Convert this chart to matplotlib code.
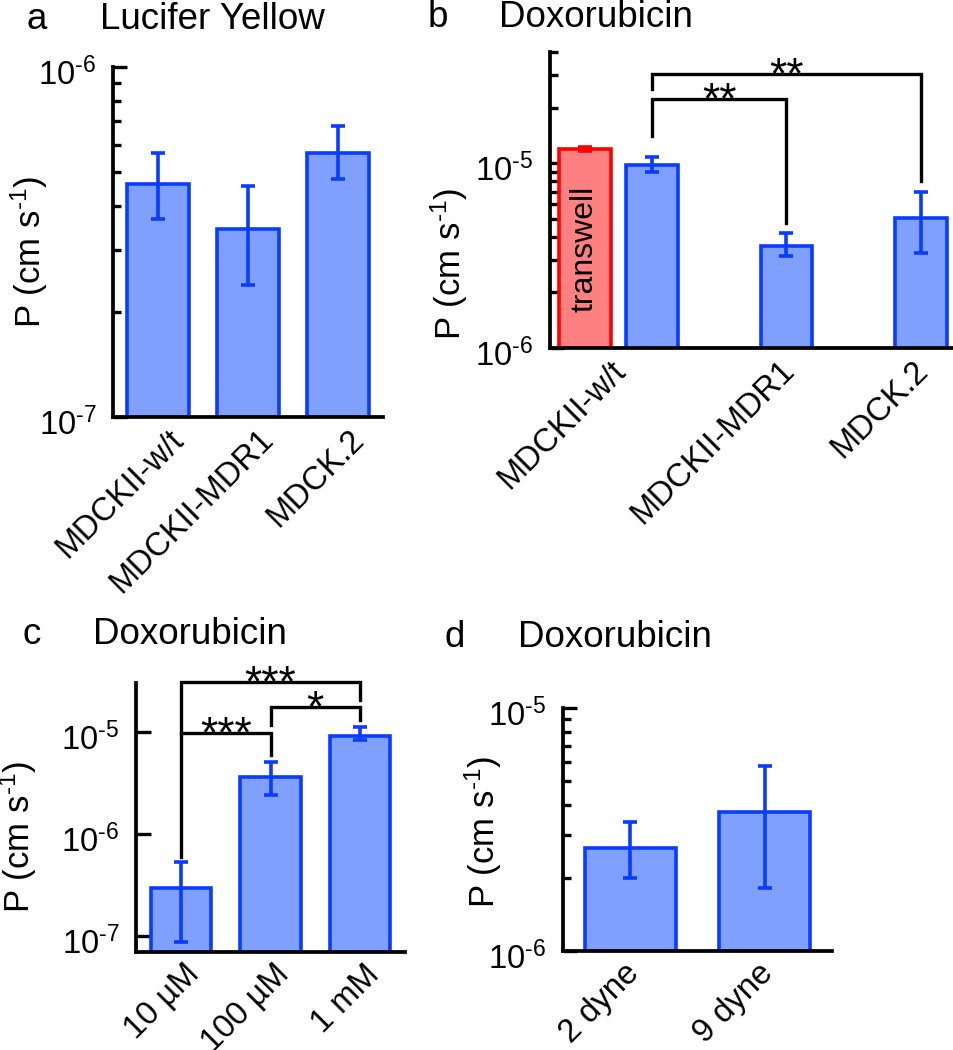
import numpy as np
import matplotlib
matplotlib.use("Agg")
import matplotlib.pyplot as plt
from matplotlib.ticker import LogLocator, FuncFormatter, NullFormatter, NullLocator
from matplotlib.transforms import ScaledTranslation, blended_transform_factory

plt.rcParams['font.family'] = ['Liberation Sans', 'DejaVu Sans']
plt.rcParams['mathtext.fontset'] = 'custom'
plt.rcParams['mathtext.rm'] = 'Liberation Sans'
plt.rcParams['mathtext.it'] = 'Liberation Sans'
plt.rcParams['mathtext.default'] = 'regular'

# ---------------- data ----------------
a_labels = ['MDCKII-w/t', 'MDCKII-MDR1', 'MDCK.2']
a_vals = [4.63e-7, 3.44e-7, 5.69e-7]
a_lo = [3.68e-7, 2.38e-7, 4.79e-7]
a_hi = [5.68e-7, 4.57e-7, 6.78e-7]

b_labels = ['MDCKII-w/t', 'MDCKII-MDR1', 'MDCK.2']
b_vals = [9.75e-6, 3.58e-6, 5.06e-6]
b_lo = [8.95e-6, 3.13e-6, 3.28e-6]
b_hi = [1.08e-5, 4.20e-6, 6.98e-6]
b_transwell_val = [1.19e-5]
b_transwell_lo = [1.16e-5]
b_transwell_hi = [1.23e-5]
b_pairs = [(0, 1), (0, 2)]
b_bracket_y = [(1.40e-5, 2.24e-5, 4.76e-6), (2.53e-5, 3.05e-5, 8.0e-6)]
b_stars = ['**', '**']

c_labels = ['10 µM', '100 µM', '1 mM']
c_vals = [2.95e-7, 3.62e-6, 9.14e-6]
c_lo = [8.7e-8, 2.41e-6, 8.35e-6]
c_hi = [5.3e-7, 5.08e-6, 1.12e-5]
c_pairs = [(0, 1), (1, 2), (0, 2)]
c_bracket_y = [(5.96e-7, 9.8e-6, 5.95e-6), (1.17e-5, 1.76e-5, 1.31e-5), (9.8e-6, 3.09e-5, 2.06e-5)]
c_stars = ['***', '*', '***']

d_labels = ['2 dyne', '9 dyne']
d_vals = [2.65e-6, 3.73e-6]
d_lo = [2.0e-6, 1.82e-6]
d_hi = [3.4e-6, 5.77e-6]

# ---------------- style ----------------
FACE = '#80A0FF'
EDGE = '#0A3CFF'
RFACE = '#FF8080'
REDGE = '#FF0000'
LW = 2.6
W, H = 954, 1050
HY = '\u2010'  # short hyphen used as minus sign in exponents

fig = plt.figure(figsize=(W / 100, H / 100), dpi=100)


def add_axes(l, r, t, b):
    return fig.add_axes([l / W, 1 - b / H, (r - l) / W, (b - t) / H])


def fmt(v, p):
    e = int(round(np.log10(v)))
    return r'$10^{%s%d}$' % (HY, abs(e))


def style(ax, ylim, minor=True):
    ax.set_yscale('log')
    ax.set_ylim(*ylim)
    for s in ['top', 'right']:
        ax.spines[s].set_visible(False)
    for s in ['left', 'bottom']:
        ax.spines[s].set_linewidth(2.7)
        ax.spines[s].set_capstyle('projecting')
    ax.yaxis.set_major_locator(LogLocator(base=10, numticks=10))
    ax.yaxis.set_major_formatter(FuncFormatter(fmt))
    if minor:
        ax.yaxis.set_minor_locator(LogLocator(base=10, subs=np.arange(2, 10), numticks=20))
    else:
        ax.yaxis.set_minor_locator(NullLocator())
    ax.yaxis.set_minor_formatter(NullFormatter())
    ax.tick_params(axis='y', which='major', direction='in', length=10, width=2.4,
                   labelsize=23.5, pad=12)
    ax.tick_params(axis='y', which='minor', direction='in', length=6, width=2.4)
    ax.tick_params(axis='x', length=0, labelsize=23.5, pad=5)


def xlabels(ax, pos, labels, dx):
    ax.set_xticks(pos)
    ax.set_xticklabels(labels, rotation=45, ha='right', va='top', rotation_mode='anchor')
    off = ScaledTranslation(dx / 100, 0, fig.dpi_scale_trans)
    for t in ax.xaxis.get_major_ticks():
        t.label1.set_transform(t.label1.get_transform() + off)


def bars(ax, x, vals, lo, hi, width, face=FACE, edge=EDGE):
    x = np.asarray(x, dtype=float)
    vals = np.asarray(vals)
    ax.bar(x, vals, width=width, color=face, edgecolor=edge, linewidth=LW, zorder=2)
    yerr = [vals - np.asarray(lo), np.asarray(hi) - vals]
    ax.errorbar(x, vals, yerr=yerr, fmt='none', ecolor=edge, elinewidth=LW,
                capsize=5, capthick=LW, zorder=3)


def brackets(ax, pairs, ys, stars):
    for (x0, x1), (y0, yt, y1), s in zip(pairs, ys, stars):
        ax.plot([x0, x0, x1, x1], [y0, yt, yt, y1], color='k', lw=2.4,
                clip_on=False, solid_joinstyle='miter', zorder=4)
        ax.annotate(s, xy=((x0 + x1) / 2, yt), xytext=(0, -10.5),
                    textcoords='offset points', ha='center', va='baseline',
                    fontsize=32, annotation_clip=False)


def ylabel(x, y):
    fig.text(x / W, 1 - y / H, r'P (cm s$^{%s1}$)' % HY, rotation=90, ha='center',
             va='center', fontsize=25)


def title(lx, tx, y, letter, text):
    fig.text(lx / W, 1 - y / H, letter, fontsize=26.5, ha='left', va='baseline')
    fig.text(tx / W, 1 - y / H, text, fontsize=26.5, ha='left', va='baseline')


# ---------------- panel a ----------------
axa = add_axes(113, 383, 67, 417)
style(axa, (1e-7, 1e-6))
xa = np.arange(len(a_vals))
bars(axa, xa, a_vals, a_lo, a_hi, 0.68)
axa.set_xlim(-0.5, 2.5)
xlabels(axa, xa, a_labels, 10)
ylabel(29, 252)
title(27, 100, 29, 'a', 'Lucifer Yellow')

# ---------------- panel b ----------------
axb = add_axes(550, 953, 52, 348)
style(axb, (1e-6, 4e-5))
xb = np.arange(len(b_vals))
bars(axb, [-0.5], b_transwell_val, b_transwell_lo, b_transwell_hi, 0.385,
     face=RFACE, edge=REDGE)
bars(axb, xb, b_vals, b_lo, b_hi, 0.385)
axb.set_xlim(-0.76, 2.24)
xlabels(axb, [-0.25, 1, 2], b_labels, -8)
axb.text(-0.5, 0.334, 'transwell', transform=blended_transform_factory(axb.transData, axb.transAxes),
         rotation=90, ha='center', va='center', fontsize=23, zorder=5)
brackets(axb, b_pairs, b_bracket_y, b_stars)
ylabel(449, 264)
title(428, 499, 27, 'b', 'Doxorubicin')

# ---------------- panel c ----------------
axc = add_axes(136, 405, 683, 952)
style(axc, (7e-8, 3.02e-5), minor=False)
axc.tick_params(axis='y', which='major', length=11)
xc = np.arange(len(c_vals))
bars(axc, xc, c_vals, c_lo, c_hi, 0.67)
axc.set_xlim(-0.5, 2.5)
xlabels(axc, xc, c_labels, 3)
brackets(axc, c_pairs, c_bracket_y, c_stars)
ylabel(18, 837)
title(23, 93, 644, 'c', 'Doxorubicin')

# ---------------- panel d ----------------
axd = add_axes(563, 832, 708, 951)
style(axd, (1e-6, 1e-5))
xd = np.arange(len(d_vals))
bars(axd, xd, d_vals, d_lo, d_hi, 0.68)
axd.set_xlim(-0.5, 1.5)
xlabels(axd, xd, d_labels, -7)
ylabel(483, 832)
title(445, 518, 647, 'd', 'Doxorubicin')

# shift y tick labels slightly downward, as in the reference
fig.canvas.draw()
yoff = ScaledTranslation(0, -4 / 100, fig.dpi_scale_trans)
for ax in (axa, axb, axc, axd):
    for t in ax.yaxis.get_major_ticks():
        t.label1.set_transform(t.label1.get_transform() + yoff)

fig.savefig('out.png', dpi=100)
